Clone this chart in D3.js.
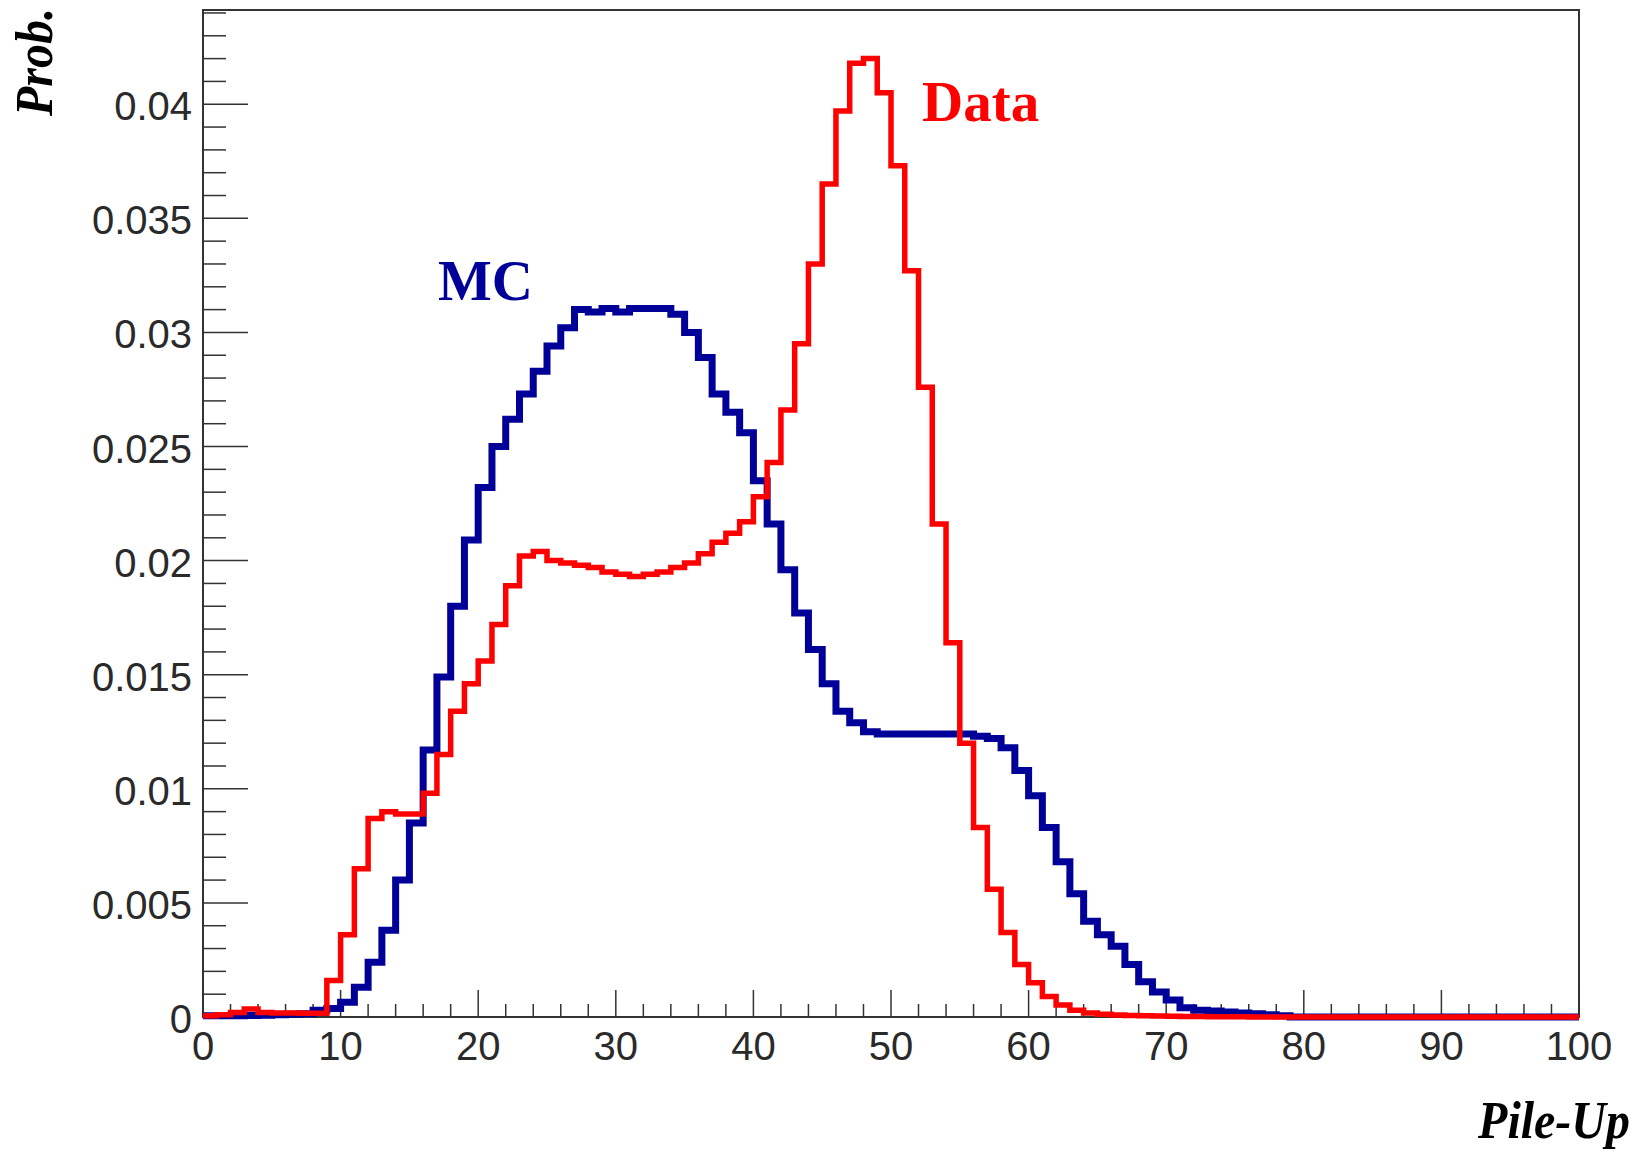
<!DOCTYPE html>
<html>
<head>
<meta charset="utf-8">
<script src="https://cdn.jsdelivr.net/npm/d3@7"></script>
<style>
  html, body { margin: 0; padding: 0; background: #fff; }
  svg { display: block; }
  .tick-label { font-family: "Liberation Sans", Arial, sans-serif; font-size: 40px; fill: #2a2a2a; }
  .title { font-family: "Liberation Serif", "Times New Roman", serif; font-weight: bold; }
</style>
</head>
<body>
<div id="chart"></div>
<script>
// Bin contents, one value per unit bin from 0 to 100
const dataValues = [
  0.00005, 0.0001, 0.0002, 0.00035, 0.0002, 0.00018, 0.00017, 0.00016, 0.00016, 0.0016,
  0.0036, 0.0065, 0.0087, 0.0090, 0.0089, 0.0089, 0.0098, 0.0115, 0.0134, 0.0146,
  0.0156, 0.0172, 0.0189, 0.0202, 0.0204, 0.0200, 0.0199, 0.0198, 0.0197, 0.0195,
  0.0194, 0.0193, 0.0194, 0.0195, 0.0197, 0.0199, 0.0203, 0.0208, 0.0212, 0.0217,
  0.0228, 0.0243, 0.0266, 0.0295, 0.0330, 0.0365, 0.0397, 0.0418, 0.0420, 0.0405,
  0.0373, 0.0327, 0.0276, 0.0216, 0.0164, 0.0120, 0.0083, 0.0056, 0.0037, 0.0023,
  0.0015, 0.0009, 0.00053, 0.0003, 0.00018, 0.00012, 0.00009, 0.00007, 0.00005, 0.00004,
  0.00003, 0.00002, 0.00002, 0.00001, 0.00001, 0.00001, 0, 0, 0, 0,
  0, 0, 0, 0, 0, 0, 0, 0, 0, 0,
  0, 0, 0, 0, 0, 0, 0, 0, 0, 0
];
const mcValues = [
  0.00005, 0.00005, 0.00006, 0.00007, 0.00008, 0.0001, 0.00012, 0.00014, 0.0003, 0.00037,
  0.00065, 0.0013, 0.0024, 0.0038, 0.0060, 0.0085, 0.0117, 0.0149, 0.0180, 0.0209,
  0.0232, 0.0250, 0.0262, 0.0273, 0.0283, 0.0294, 0.0302, 0.0310, 0.0309, 0.03105,
  0.0309, 0.03105, 0.03105, 0.03105, 0.0308, 0.0300, 0.0289, 0.0273, 0.0265, 0.0256,
  0.0235, 0.0216, 0.0196, 0.0177, 0.0161, 0.0146, 0.0134, 0.0129, 0.0125, 0.0124,
  0.0124, 0.0124, 0.0124, 0.0124, 0.0124, 0.0124, 0.0123, 0.0122, 0.0118, 0.0108,
  0.0097, 0.0083, 0.0068, 0.0054, 0.0042, 0.0036, 0.0031, 0.0023, 0.00155, 0.0011,
  0.00075, 0.0004, 0.0003, 0.00026, 0.00022, 0.00018, 0.00014, 0.0001, 0.00005, 0,
  0, 0, 0, 0, 0, 0, 0, 0, 0, 0,
  0, 0, 0, 0, 0, 0, 0, 0, 0, 0
];
const xTickValues = [0, 10, 20, 30, 40, 50, 60, 70, 80, 90, 100];
const yTickValues = [0, 0.005, 0.01, 0.015, 0.02, 0.025, 0.03, 0.035, 0.04];
const yTickLabels = ["0", "0.005", "0.01", "0.015", "0.02", "0.025", "0.03", "0.035", "0.04"];
const xRange = [0, 100];
const yRange = [0, 0.04413];

(function () {
  const W = 1639, H = 1153;
  const frame = { left: 203, right: 1579, top: 10, bottom: 1017 };

  const svg = d3.select("#chart").append("svg")
    .attr("width", W).attr("height", H);

  const x = d3.scaleLinear().domain(xRange).range([frame.left, frame.right]);
  const y = d3.scaleLinear().domain(yRange).range([frame.bottom, frame.top]);

  // frame box
  svg.append("rect")
    .attr("x", frame.left).attr("y", frame.top)
    .attr("width", frame.right - frame.left)
    .attr("height", frame.bottom - frame.top)
    .attr("fill", "none").attr("stroke", "#333").attr("stroke-width", 2);

  // y ticks (major every 0.005, minor every 0.001), drawn inside the frame
  const yMinor = d3.range(0, 45).map(i => i * 0.001).filter(v => v <= yRange[1]);
  svg.append("g").selectAll("line").data(yMinor).enter().append("line")
    .attr("x1", frame.left)
    .attr("x2", (d, i) => frame.left + (i % 5 === 0 ? 45 : 23))
    .attr("y1", d => y(d)).attr("y2", d => y(d))
    .attr("stroke", "#333").attr("stroke-width", 1.5);

  svg.append("g").selectAll("text").data(yTickValues).enter().append("text")
    .attr("class", "tick-label")
    .attr("x", frame.left - 11)
    .attr("y", d => y(d) + 2)
    .attr("text-anchor", "end")
    .attr("dominant-baseline", "central")
    .text((d, i) => yTickLabels[i]);

  // x ticks (major every 10, minor every 2)
  const xMinor = d3.range(0, 51).map(i => i * 2);
  svg.append("g").selectAll("line").data(xMinor).enter().append("line")
    .attr("x1", d => x(d)).attr("x2", d => x(d))
    .attr("y1", frame.bottom)
    .attr("y2", d => frame.bottom - (d % 10 === 0 ? 27 : 13))
    .attr("stroke", "#333").attr("stroke-width", 1.5);

  svg.append("g").selectAll("text").data(xTickValues).enter().append("text")
    .attr("class", "tick-label")
    .attr("x", d => x(d))
    .attr("y", frame.bottom + 43)
    .attr("text-anchor", "middle")
    .text(d => d);

  // step histograms
  const stepLine = d3.line()
    .x(d => x(d[0]))
    .y(d => y(d[1]))
    .curve(d3.curveStepAfter);
  const toSteps = vals => vals.map((v, i) => [i, v]).concat([[vals.length, vals[vals.length - 1]]]);

  svg.append("path")
    .datum(toSteps(mcValues))
    .attr("d", stepLine)
    .attr("fill", "none").attr("stroke", "#000099").attr("stroke-width", 7);

  svg.append("path")
    .datum(toSteps(dataValues))
    .attr("d", stepLine)
    .attr("fill", "none").attr("stroke", "#ff0000").attr("stroke-width", 5.5);

  // labels
  svg.append("text").attr("class", "title")
    .attr("x", 438).attr("y", 300)
    .attr("font-size", 57).attr("fill", "#000099")
    .text("MC");
  svg.append("text").attr("class", "title")
    .attr("x", 922).attr("y", 121)
    .attr("font-size", 57).attr("fill", "#ff0000")
    .text("Data");

  svg.append("text").attr("class", "title")
    .attr("font-style", "italic").attr("font-size", 48)
    .attr("text-anchor", "end")
    .attr("transform", "translate(52,8) rotate(-90) scale(1,1.1)")
    .text("Prob.");
  svg.append("text").attr("class", "title")
    .attr("font-style", "italic").attr("font-size", 48)
    .attr("text-anchor", "end")
    .attr("transform", "translate(1630,1138) scale(1,1.1)")
    .text("Pile-Up");
})();
</script>
</body>
</html>
